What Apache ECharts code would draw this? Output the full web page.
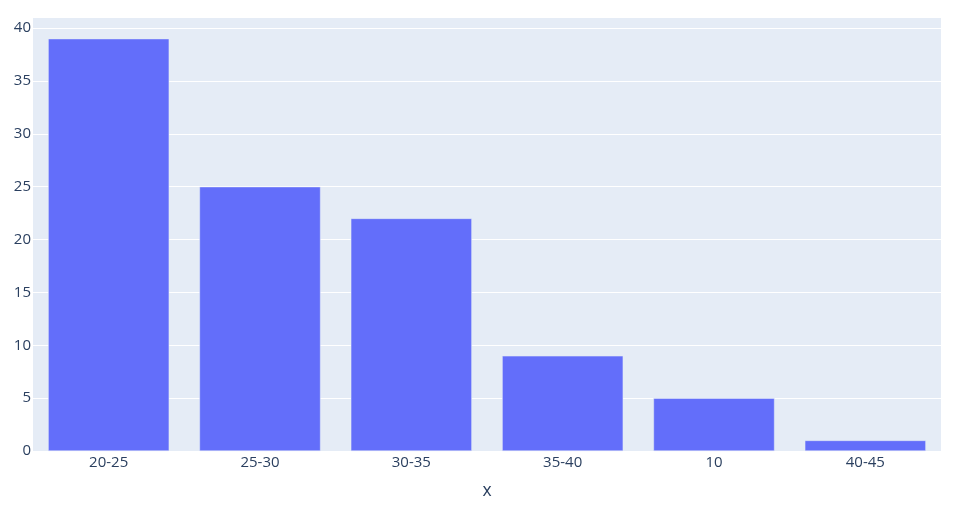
<!DOCTYPE html>
<html>
<head>
<meta charset="utf-8">
<script src="https://cdn.jsdelivr.net/npm/echarts@6/dist/echarts.min.js"></script>
<style>html,body{margin:0;padding:0;background:#fff}#c{width:961px;height:514px}</style>
</head>
<body>
<div id="c"></div>
<script>
var categories = ['20-25', '25-30', '30-35', '35-40', '10', '40-45'];
var counts = [39, 25, 22, 9, 5, 1];
var xTitle = 'x';

var chart = echarts.init(document.getElementById('c'), null, {renderer: 'canvas'});
var font = '"Open Sans", "Noto Sans", sans-serif';
chart.setOption({
  animation: false,
  backgroundColor: '#ffffff',
  grid: {left: 33, right: 20, top: 17, bottom: 63, show: true, backgroundColor: '#e5ecf6', borderWidth: 0},
  xAxis: {
    type: 'category',
    data: categories,
    name: xTitle,
    nameLocation: 'middle',
    nameGap: 31,
    nameTextStyle: {fontFamily: font, fontSize: 17.5, color: '#2a3f5f'},
    axisLine: {show: false},
    axisTick: {show: false},
    axisLabel: {fontFamily: font, fontSize: 15, color: '#2a3f5f', margin: 4}
  },
  yAxis: {
    type: 'value',
    min: 0,
    max: 41.05,
    interval: 5,
    axisLine: {show: false},
    axisTick: {show: false},
    axisLabel: {fontFamily: font, fontSize: 15, color: '#2a3f5f', margin: 2,
      formatter: function (v) { return (v % 5 === 0) ? String(v) : ''; }},
    splitLine: {lineStyle: {color: '#ffffff', width: 1}}
  },
  series: [{
    type: 'bar',
    data: counts,
    barCategoryGap: '20%',
    itemStyle: {color: '#636efa', borderColor: '#e5ecf6', borderWidth: 0.5}
  }]
});
</script>
</body>
</html>
